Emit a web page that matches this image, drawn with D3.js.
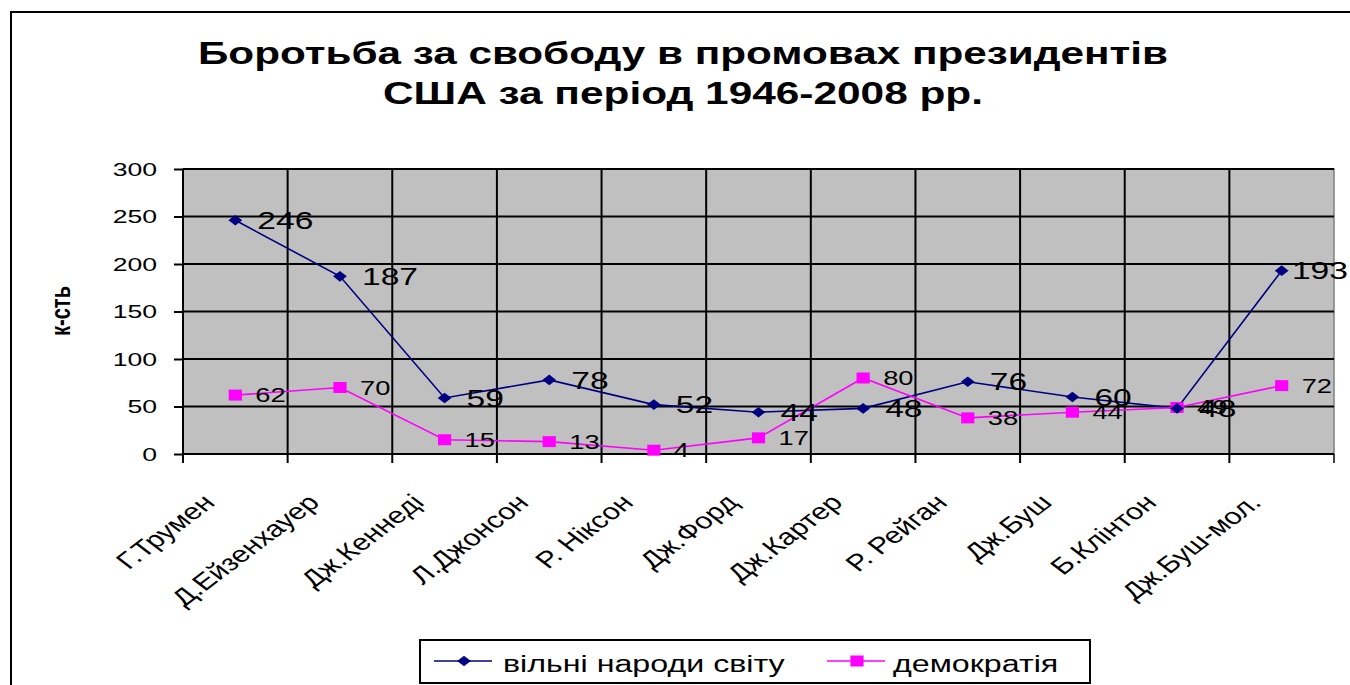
<!DOCTYPE html>
<html>
<head>
<meta charset="utf-8">
<script src="https://cdn.jsdelivr.net/npm/d3@7"></script>
<style>
  body { margin: 0; background: #fff; }
  svg { display: block; font-family: "Liberation Sans", Arial, sans-serif; }
</style>
</head>
<body>
<script>
const categories = ['Г.Трумен', 'Д.Ейзенхауер', 'Дж.Кеннеді', 'Л.Джонсон', 'Р. Ніксон', 'Дж.Форд',
  'Дж.Картер', 'Р. Рейган', 'Дж.Буш', 'Б.Клінтон', 'Дж.Буш-мол.'];
const freeNations = [246, 187, 59, 78, 52, 44, 48, 76, 60, 48, 193];
const democracy = [62, 70, 15, 13, 4, 17, 80, 38, 44, 49, 72];
const yTicks = [0, 50, 100, 150, 200, 250, 300];
const seriesNames = ['вільні народи світу', 'демократія'];
const titleLines = ['Боротьба за свободу в промовах президентів', 'США за період 1946-2008 рр.'];
const yTitle = 'к-сть';

const width = 1350;
const height = 685;
const SX = 1.4; // текст у оригіналі розтягнутий по горизонталі
const plot = { left: 183, right: 1334, top: 169, bottom: 454 };

const svg = d3.select('body').append('svg')
  .attr('width', width)
  .attr('height', height);

// рамка діаграми
svg.append('rect')
  .attr('x', 11).attr('y', 12)
  .attr('width', 1400).attr('height', 700)
  .attr('fill', '#fff')
  .attr('stroke', '#000')
  .attr('stroke-width', 2);

// заголовок
svg.selectAll('.title')
  .data(titleLines)
  .enter().append('text')
  .attr('class', 'title')
  .attr('x', 683)
  .attr('y', (d, i) => i === 0 ? 64 : 104)
  .attr('text-anchor', 'middle')
  .attr('font-size', '32px')
  .attr('font-weight', 'bold')
  .attr('textLength', (d, i) => i === 0 ? 970 : 600)
  .attr('lengthAdjust', 'spacingAndGlyphs')
  .text(d => d);

const x = d3.scaleBand().domain(categories).range([plot.left, plot.right]);
const y = d3.scaleLinear().domain([0, 300]).range([plot.bottom, plot.top]);
const cx = i => x(categories[i]) + x.bandwidth() / 2;

// область побудови
svg.append('rect')
  .attr('x', plot.left).attr('y', plot.top)
  .attr('width', plot.right - plot.left)
  .attr('height', plot.bottom - plot.top)
  .attr('fill', '#c0c0c0')
  .attr('stroke', '#808080')
  .attr('stroke-width', 1.5);

// горизонтальна сітка
svg.append('g')
  .selectAll('line')
  .data(yTicks)
  .enter().append('line')
  .attr('x1', plot.left).attr('x2', plot.right)
  .attr('y1', d => y(d)).attr('y2', d => y(d))
  .attr('stroke', '#000')
  .attr('stroke-width', 2);

// вертикальна сітка на межах категорій
const bounds = categories.map(c => x(c)).concat([plot.right]);
svg.append('g')
  .selectAll('line')
  .data(bounds)
  .enter().append('line')
  .attr('x1', d => d).attr('x2', d => d)
  .attr('y1', (d, i) => i === bounds.length - 1 ? plot.bottom : plot.top)
  .attr('y2', plot.bottom + 9)
  .attr('stroke', '#000')
  .attr('stroke-width', (d, i) => i === bounds.length - 1 ? 1.5 : 2);

// вісь Y
const yAxis = svg.append('g')
  .attr('transform', `translate(${plot.left},0)`)
  .call(d3.axisLeft(y).tickValues(yTicks).tickSize(9).tickPadding(17));
yAxis.select('.domain').remove();
yAxis.selectAll('line').attr('stroke', '#000').attr('stroke-width', 2);
yAxis.selectAll('text')
  .attr('font-family', '"Liberation Sans", Arial, sans-serif')
  .attr('font-size', '19px')
  .attr('fill', '#000')
  .attr('x', -26 / SX)
  .attr('transform', `scale(${SX},1)`);
yAxis.attr('font-size', null).attr('font-family', null);

svg.append('line')
  .attr('x1', plot.left).attr('x2', plot.left)
  .attr('y1', plot.top).attr('y2', plot.bottom + 9)
  .attr('stroke', '#000').attr('stroke-width', 2);

// вісь X
const xAxis = svg.append('g')
  .attr('transform', `translate(0,${plot.bottom})`)
  .call(d3.axisBottom(x).tickSize(0));
xAxis.select('.domain').remove();
xAxis.selectAll('text')
  .attr('font-family', '"Liberation Sans", Arial, sans-serif')
  .attr('font-size', '23px')
  .attr('fill', '#000')
  .attr('text-anchor', 'end')
  .attr('x', 0).attr('y', 0).attr('dy', 0)
  .attr('transform', `translate(-19,50) scale(1.32,1) rotate(-45)`);
xAxis.attr('font-size', null).attr('font-family', null);

svg.append('line')
  .attr('x1', plot.left).attr('x2', plot.right)
  .attr('y1', plot.bottom).attr('y2', plot.bottom)
  .attr('stroke', '#000').attr('stroke-width', 2);

// назва осі Y
svg.append('text')
  .attr('transform', `translate(60,311) scale(${SX},1) rotate(-90)`)
  .attr('text-anchor', 'middle')
  .attr('dy', '0.35em')
  .attr('font-size', '20px')
  .attr('font-weight', 'bold')
  .text(yTitle);

const series = [
  { name: seriesNames[0], values: freeNations, color: '#000080', shape: 'diamond', labelSize: 24 },
  { name: seriesNames[1], values: democracy, color: '#ff00ff', shape: 'square', labelSize: 19.5 }
];

const line = d3.line()
  .x((d, i) => cx(i))
  .y(d => y(d));

function marker(sel, shape, color) {
  if (shape === 'diamond') {
    sel.append('path')
      .attr('d', d3.symbol(d3.symbolSquare, 56)())
      .attr('transform', 'scale(1.3,1) rotate(45)')
      .attr('fill', color);
  } else {
    sel.append('path')
      .attr('d', d3.symbol(d3.symbolSquare, 121)())
      .attr('transform', 'scale(1.2,1)')
      .attr('fill', color);
  }
}

// лінії, маркери, підписи — спершу лінії обох рядів
series.forEach(s => {
  svg.append('path')
    .datum(s.values)
    .attr('d', line)
    .attr('fill', 'none')
    .attr('stroke', s.color)
    .attr('stroke-width', 1.6);
});

series.slice().reverse().forEach(s => {
  svg.append('g')
    .selectAll('g')
    .data(s.values)
    .enter().append('g')
    .attr('transform', (d, i) => `translate(${cx(i)},${y(d)})`)
    .each(function() { marker(d3.select(this), s.shape, s.color); });
});

series.slice().reverse().forEach(s => {
  const lbl = svg.append('g')
    .selectAll('g')
    .data(s.values)
    .enter().append('g');
  lbl.append('text')
    .attr('dy', '0.36em')
    .attr('font-size', s.labelSize + 'px')
    .attr('fill', '#000')
    .text(d => d);
  lbl.attr('transform', function(d, i) {
    const w = this.querySelector('text').getComputedTextLength() * SX;
    let lx = cx(i) + (s.shape === 'diamond' ? 22 : 20);
    if (lx + w > width - 2) lx = width - 2 - w; // не виходити за межі
    return `translate(${lx},${y(d)}) scale(${SX},1)`;
  });
});

// легенда
const legend = svg.append('g');
legend.append('rect')
  .attr('x', 420).attr('y', 640)
  .attr('width', 670).attr('height', 43)
  .attr('fill', '#fff')
  .attr('stroke', '#000')
  .attr('stroke-width', 2);

const legendX = [434, 827];
series.forEach((s, i) => {
  const g = legend.append('g').attr('transform', `translate(${legendX[i]},661)`);
  g.append('line')
    .attr('x1', 0).attr('x2', 58)
    .attr('stroke', s.color).attr('stroke-width', 1.6);
  const m = g.append('g').attr('transform', 'translate(30,0)');
  marker(m, s.shape, s.color);
  g.append('text')
    .attr('transform', `translate(${i === 0 ? 69 : 66},11) scale(${SX},1)`)
    .attr('font-size', '23px')
    .text(s.name);
});
</script>
</body>
</html>
